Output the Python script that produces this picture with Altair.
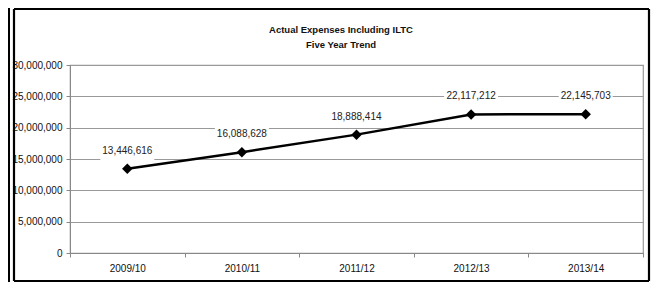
import altair as alt
import pandas as pd

years = ["2009/10", "2010/11", "2011/12", "2012/13", "2013/14"]
expenses = [13446616, 16088628, 18888414, 22117212, 22145703]
title_lines = ["Actual Expenses Including ILTC", "Five Year Trend"]
y_ticks = [0, 5000000, 10000000, 15000000, 20000000, 25000000, 30000000]

FONT = "Liberation Sans, Arial, sans-serif"

df = pd.DataFrame({"year": years, "value": expenses})
one = pd.DataFrame({"k": [0]})

W, H = 573, 188

x_enc = alt.X("year:N", sort=years, title=None,
              scale=alt.Scale(type="band", paddingInner=0, paddingOuter=0),
              axis=alt.Axis(labelAngle=0, tickBand="extent", domainColor="#888888",
                            tickColor="#888888", tickSize=4, labelPadding=6,
                            labelFontSize=10, labelColor="#111111", grid=False))
y_enc = alt.Y("value:Q", title=None,
              scale=alt.Scale(domain=[0, 30000000], nice=False),
              axis=alt.Axis(values=y_ticks, format=",d", domainColor="#888888",
                            tickColor="#888888", tickSize=4, labelPadding=4,
                            labelFontSize=10, labelColor="#111111", labelOverlap=False,
                            gridColor="#999999", gridWidth=1.2))

base = alt.Chart(df)

line = base.mark_line(color="black", strokeWidth=2.5).encode(x=x_enc, y=y_enc)
pts = base.mark_point(shape="diamond", filled=True, color="black", size=110,
                      opacity=1).encode(x=x_enc, y=y_enc)
bg = base.mark_point(shape="M-1,-0.35H1V0.35H-1Z", filled=True, color="white", opacity=1,
                     size=2916, yOffset=-18).encode(x=x_enc, y=y_enc)
labels = base.mark_text(fontSize=10, color="#222222", yOffset=-18, font=FONT,
                        baseline="middle").encode(
    x=x_enc, y=y_enc, text=alt.Text("value:Q", format=",d"))


def title_line(txt, ypos):
    return alt.Chart(pd.DataFrame({"t": [txt]})).mark_text(
        fontSize=9.5, fontWeight="bold", font=FONT, color="#111111", baseline="middle"
    ).encode(x=alt.value(271), y=alt.value(ypos), text="t:N")


titles = title_line(title_lines[0], -35) + title_line(title_lines[1], -20)


def rule(x1, x2, y1, y2, w=2.2):
    return alt.Chart(one).mark_rule(color="black", strokeWidth=w).encode(
        x=alt.value(x1), x2=alt.value(x2), y=alt.value(y1), y2=alt.value(y2))


frame = (rule(-56, -56, -56, 216) + rule(579, 579, -56, 216) +
         rule(-56, 579, -56, -56) + rule(-56, 579, 216, 216) +
         rule(-61, -61, -57, 217, 2))

chart = alt.layer(bg, line, pts, labels, titles, frame).properties(
    width=W, height=H,
    autosize=alt.AutoSizeParams(type="none"),
    padding={"left": 62, "top": 57, "right": 8, "bottom": 29},
).configure(font=FONT).configure_view(stroke="#999999", strokeWidth=1.2).configure_axis(
    labelFont=FONT)

chart.save("out.html", embed_options={"renderer": "svg", "actions": False})
